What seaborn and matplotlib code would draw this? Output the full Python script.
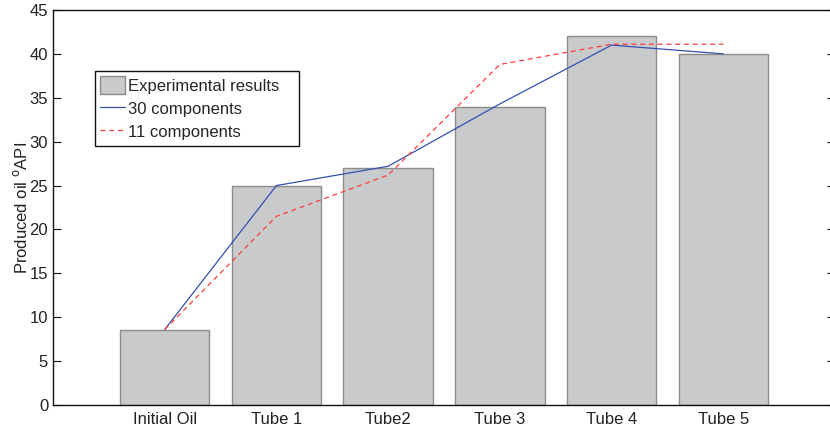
import pandas as pd
import matplotlib
matplotlib.use('Agg')
import matplotlib.pyplot as plt
import seaborn as sns

# data
categories = ['Initial Oil', 'Tube 1', 'Tube2', 'Tube 3', 'Tube 4', 'Tube 5']
experimental = [8.6, 25.0, 27.0, 34.0, 42.0, 40.0]
comp_30 = [8.6, 25.0, 27.2, 34.3, 41.0, 40.0]
comp_11 = [8.6, 21.5, 26.2, 38.8, 41.1, 41.1]

df = pd.DataFrame({'sample': categories, 'api': experimental})

sns.set_style('white')
plt.rcParams['font.family'] = ['Liberation Sans', 'DejaVu Sans']

fig = plt.figure(figsize=(8.3, 4.3), dpi=100)
# axes run slightly past the right edge, as in the cropped reference
ax = fig.add_axes([53 / 830, 25 / 430, 782 / 830, 395 / 430])

sns.barplot(data=df, x='sample', y='api', color='#c9cacc', saturation=1,
            width=0.8, edgecolor='#8c8c8c', linewidth=1.0, ax=ax,
            label='Experimental results')

ax.plot(range(len(categories)), comp_30, color='#3450b0', linewidth=0.9,
        label='30 components')
ax.plot(range(len(categories)), comp_11, color='#ff3b3b', linewidth=0.9,
        linestyle=(0, (4, 3)), label='11 components')

ax.set_xlim(-1, 6)
ax.set_ylim(0, 45)
ax.set_yticks(range(0, 46, 5))
ax.set_xlabel('')
ax.set_ylabel('Produced oil $^{\\mathrm{o}}$API', fontsize=12, color='#222222',
              labelpad=0)

for s in ax.spines.values():
    s.set_visible(True)
    s.set_color('#111111')
    s.set_linewidth(1.0)

ax.tick_params(axis='y', direction='in', length=6, width=0.8, labelsize=12,
               right=True, left=True, colors='#111111', labelcolor='#222222')
ax.tick_params(axis='x', length=0, labelsize=12, labelcolor='#222222', pad=5)

# legend: bars first, then the two model lines
handles, labels = ax.get_legend_handles_labels()
order = [labels.index('Experimental results'), labels.index('30 components'),
         labels.index('11 components')]
leg_w = 204 / 782
leg_h = 78 / 395
leg_x = (95 - 53) / 782
leg_top = (405 - 71) / 395
leg = ax.legend([handles[i] for i in order], [labels[i] for i in order],
                loc='upper left', mode='expand',
                bbox_to_anchor=(leg_x, leg_top - leg_h, leg_w, leg_h),
                fontsize=12, frameon=True, fancybox=False, framealpha=1,
                edgecolor='#111111', handlelength=1.5, handleheight=1.3,
                handletextpad=0.15, borderpad=0.3, labelspacing=0.3,
                borderaxespad=0)
leg.get_frame().set_linewidth(1.0)

plt.savefig('out.png', dpi=100)
